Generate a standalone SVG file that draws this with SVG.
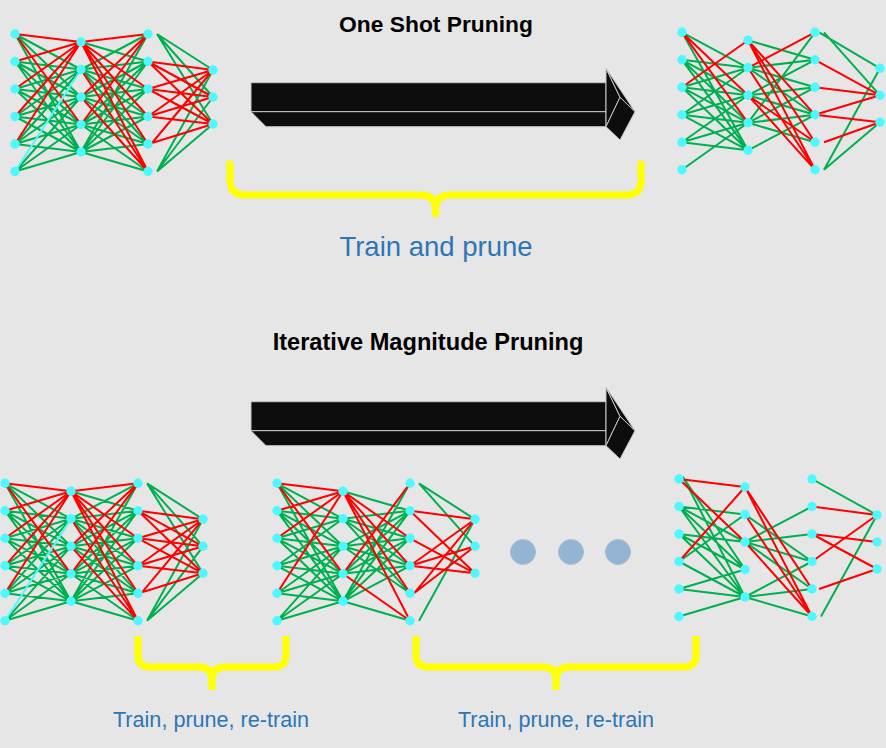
<svg xmlns="http://www.w3.org/2000/svg" xmlns:xlink="http://www.w3.org/1999/xlink" width="886" height="748" viewBox="0 0 886 748">
<style>
.r{fill:none;stroke:#ff0000;stroke-width:2}
.g{fill:none;stroke:#00b050;stroke-width:2}
.c{fill:none;stroke:#4ff8ff;stroke-width:2}
.n{fill:#4ff8ff}
.face{fill:#0d0d0d;stroke:#c8c8c8;stroke-width:1;stroke-linejoin:round}
.brace{fill:none;stroke:#ffff00;stroke-width:7}
.title{font-family:"Liberation Sans",Arial,sans-serif;font-weight:bold;fill:#000;text-anchor:middle}
.lbl{font-family:"Liberation Sans",Arial,sans-serif;fill:#2e75b6;text-anchor:middle}
.dot{fill:#94b4d4;stroke:#a9bccd;stroke-width:1}
</style>
<defs>
<g id="neurons">
<circle class="n" cx="15" cy="34" r="4.7"/><circle class="n" cx="15" cy="61.5" r="4.7"/><circle class="n" cx="15" cy="89" r="4.7"/><circle class="n" cx="15" cy="116.5" r="4.7"/><circle class="n" cx="15" cy="144" r="4.7"/><circle class="n" cx="15" cy="171.5" r="4.7"/>
<circle class="n" cx="81" cy="42" r="4.7"/><circle class="n" cx="81" cy="69.5" r="4.7"/><circle class="n" cx="81" cy="97" r="4.7"/><circle class="n" cx="81" cy="124.5" r="4.7"/><circle class="n" cx="81" cy="152" r="4.7"/>
<circle class="n" cx="148" cy="34" r="4.7"/><circle class="n" cx="148" cy="61.5" r="4.7"/><circle class="n" cx="148" cy="89" r="4.7"/><circle class="n" cx="148" cy="116.5" r="4.7"/><circle class="n" cx="148" cy="144" r="4.7"/><circle class="n" cx="148" cy="171.5" r="4.7"/>
<circle class="n" cx="213" cy="70" r="4.7"/><circle class="n" cx="213" cy="97" r="4.7"/><circle class="n" cx="213" cy="124" r="4.7"/>
</g>
<g id="arrow3d">
<polygon class="face" points="251,82.7 606,82.7 606,111.7 251,111.7"/>
<polygon class="face" points="251,111.7 266,126.7 606,126.7 606,111.7"/>
<polygon class="face" points="606,68.3 620,97.3 606,126.7"/>
<polygon class="face" points="606,68.3 635,111.7 620,97.3"/>
<polygon class="face" points="620,97.3 635,111.7 620,140 606,126.7"/>
</g>
<g id="fullnet">
<path class="g" d="M15 34L81 69.5M15 34L81 97M15 34L81 152M15 61.5L81 69.5M15 61.5L81 97M15 61.5L81 124.5M15 61.5L81 152M15 89L81 69.5M15 89L81 97M15 89L81 124.5M15 89L81 152M15 116.5L81 69.5M15 116.5L81 97M15 116.5L81 124.5M15 116.5L81 152M15 144L81 69.5M15 144L81 97M15 144L81 124.5M15 144L81 152M15 171.5L81 97M15 171.5L81 124.5M15 171.5L81 152M81 42L148 61.5M81 69.5L148 34M81 69.5L148 61.5M81 69.5L148 89M81 69.5L148 116.5M81 69.5L148 144M81 97L148 61.5M81 97L148 89M81 97L148 116.5M81 97L148 144M81 124.5L148 61.5M81 124.5L148 89M81 124.5L148 116.5M81 124.5L148 144M81 124.5L148 171.5M81 152L148 34M81 152L148 61.5M81 152L148 89M81 152L148 116.5M81 152L148 144M81 152L148 171.5M157 34L213 70M157 34L213 97M157 34L213 124M157 171.5L213 70M157 171.5L213 97M157 171.5L213 124"/>
<path class="r" d="M15 34L81 42M15 34L81 124.5M15 61.5L81 42M15 89L81 42M15 116.5L81 42M15 144L81 42M81 42L148 34M81 42L148 89M81 42L148 116.5M81 42L148 144M81 42L148 171.5M81 69.5L148 171.5M81 97L148 34M81 97L148 171.5M81 124.5L148 34M148 61.5L213 70M148 61.5L213 97M148 61.5L213 124M148 89L213 70M148 89L213 97M148 89L213 124M148 116.5L213 70M148 116.5L213 97M148 116.5L213 124M152 143L213 70M152 143L213 124"/>
<path class="c" d="M15 171.5L81 69.5"/>
<use xlink:href="#neurons" href="#neurons"/>
</g>
</defs>
<rect x="0" y="0" width="886" height="748" fill="#e6e6e6"/>

<g id="net-one-shot-before">
<use xlink:href="#fullnet" href="#fullnet"/>
</g>

<g id="net-one-shot-after" transform="translate(667,-1.7)">
<path class="g" d="M15 34L81 69.5M15 34L81 152M15 61.5L81 69.5M15 61.5L81 97M15 61.5L81 124.5M15 61.5L81 152M15 89L81 69.5M15 89L81 97M15 89L81 124.5M15 89L81 152M15 116.5L81 69.5M15 116.5L81 97M15 116.5L81 124.5M15 116.5L81 152M15 144L81 97M15 144L81 124.5M15 144L81 152M15 171.5L81 124.5M81 42L148 61.5M81 69.5L148 61.5M81 69.5L148 89M81 69.5L148 116.5M81 97L148 61.5M81 97L148 89M81 97L148 116.5M81 124.5L148 34M81 124.5L148 89M81 124.5L148 116.5M81 124.5L148 144M81 152L148 116.5M152 34L213 70M157 34L213 97M157 171.5L213 70M157 171.5L213 124"/>
<path class="r" d="M15 34L81 97M15 34L81 124.5M15 89L81 42M81 42L148 116.5M81 42L148 144M81 42L148 171.5M81 69.5L148 34M81 69.5L148 171.5M81 97L148 144M81 97L148 171.5M148 61.5L213 97M148 89L213 97M148 116.5L213 97M148 116.5L213 124M157 144L213 124"/>
<use xlink:href="#neurons" href="#neurons"/>
</g>

<g id="net-imp-start" transform="translate(-10,449.3)">
<use xlink:href="#fullnet" href="#fullnet"/>
</g>

<g id="net-imp-mid" transform="translate(262,449.3)">
<path class="g" d="M15 34L81 69.5M15 34L81 97M15 34L81 152M15 61.5L81 69.5M15 61.5L81 97M15 61.5L81 124.5M15 61.5L81 152M15 89L81 69.5M15 89L81 97M15 89L81 124.5M15 89L81 152M15 116.5L81 69.5M15 116.5L81 97M15 116.5L81 124.5M15 116.5L81 152M15 144L81 97M15 144L81 124.5M15 144L81 152M15 171.5L81 97M15 171.5L81 124.5M15 171.5L81 152M81 42L148 61.5M81 69.5L148 61.5M81 69.5L148 89M81 69.5L148 116.5M81 69.5L148 144M81 97L148 61.5M81 97L148 89M81 97L148 116.5M81 97L148 144M81 124.5L148 61.5M81 124.5L148 89M81 124.5L148 116.5M81 152L148 34M81 152L148 61.5M81 152L148 89M81 152L148 116.5M81 152L148 171.5M157 34L213 70M157 34L213 97M157 171.5L213 70"/>
<path class="r" d="M15 34L81 42M15 34L81 124.5M15 61.5L81 42M15 89L81 42M15 144L81 42M81 42L148 89M81 42L148 116.5M81 42L148 144M81 42L148 171.5M81 124.5L148 34M81 124.5L148 171.5M148 61.5L213 70M148 61.5L213 124M148 89L213 124M148 116.5L213 70M148 116.5L213 97M148 116.5L213 124M152 144L213 70M152 144L213 97"/>
<use xlink:href="#neurons" href="#neurons"/>
</g>

<g id="net-imp-final" transform="translate(664,445)">
<path class="g" d="M19 32L81 124.5M19 32L81 152M15 61.5L81 69.5M15 61.5L81 97M15 61.5L81 124.5M15 61.5L81 152M15 89L81 97M15 89L81 124.5M15 89L81 152M15 116.5L81 69.5M15 116.5L81 152M15 144L81 124.5M15 144L81 152M15 171.5L81 152M81 69.5L148 116.5M81 97L148 61.5M81 97L148 89M81 97L148 116.5M81 97L148 144M81 152L148 116.5M81 152L148 144M81 152L148 171.5M148 34L213 70M157 171.5L213 70"/>
<path class="r" d="M15 34L81 42M15 34L81 97M15 116.5L81 42M81 42L148 144M81 42L148 171.5M81 69.5L148 171.5M81 97L148 171.5M148 61.5L213 70M148 89L213 97M148 89L213 124M148 116.5L213 70M155 144L213 124"/>
<use xlink:href="#neurons" href="#neurons"/>
</g>

<g id="arrow-one-shot"><use xlink:href="#arrow3d" href="#arrow3d"/></g>
<g id="arrow-imp" transform="translate(0,319)"><use xlink:href="#arrow3d" href="#arrow3d"/></g>

<g id="brace-one-shot"><path class="brace" d="M230 161V180Q230 195 245 195H421Q435.5 195 435.5 210V217M641 161V180Q641 195 626 195H450Q435.5 195 435.5 210"/></g>
<g id="brace-imp-1"><path class="brace" d="M138 636V655Q138 667 150 667H199Q212 667 212 680V690M286 636V655Q286 667 274 667H225Q212 667 212 680"/></g>
<g id="brace-imp-2"><path class="brace" d="M416 636V655Q416 667 428 667H543Q556 667 556 680V690M696 636V655Q696 667 684 667H569Q556 667 556 680"/></g>

<g id="ellipsis">
<circle class="dot" cx="523" cy="552" r="12.5"/>
<circle class="dot" cx="571" cy="552" r="12.5"/>
<circle class="dot" cx="618" cy="552" r="12.5"/>
</g>

<text id="title-one-shot" class="title" x="436" y="32" font-size="22.8">One Shot Pruning</text>
<text id="title-imp" class="title" x="428" y="350" font-size="23.6">Iterative Magnitude Pruning</text>
<text id="label-train-prune" class="lbl" x="436" y="256" font-size="27.5">Train and prune</text>
<text id="label-retrain-1" class="lbl" x="211" y="727" font-size="21.6">Train, prune, re-train</text>
<text id="label-retrain-2" class="lbl" x="556" y="727" font-size="21.6">Train, prune, re-train</text>
</svg>
